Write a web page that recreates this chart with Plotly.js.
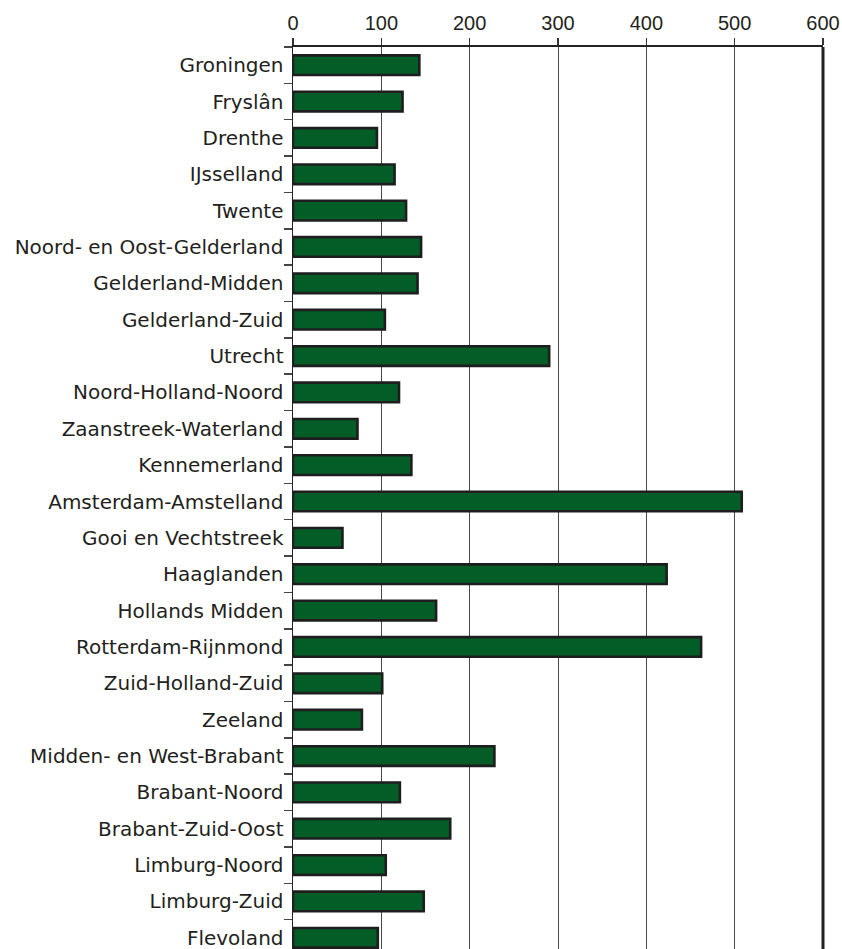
<!DOCTYPE html>
<html>
<head>
<meta charset="utf-8">
<script src="https://cdn.plot.ly/plotly-3.0.1.min.js"></script>
<style>
html, body { margin: 0; padding: 0; overflow: hidden; background: #fff; }
#chart { width: 842px; height: 956px; }
</style>
</head>
<body>
<div id="chart"></div>
<script>
const regions = [
  "Groningen", "Fryslân", "Drenthe", "IJsselland", "Twente",
  "Noord- en Oost-Gelderland", "Gelderland-Midden", "Gelderland-Zuid", "Utrecht",
  "Noord-Holland-Noord", "Zaanstreek-Waterland", "Kennemerland", "Amsterdam-Amstelland",
  "Gooi en Vechtstreek", "Haaglanden", "Hollands Midden", "Rotterdam-Rijnmond",
  "Zuid-Holland-Zuid", "Zeeland", "Midden- en West-Brabant", "Brabant-Noord",
  "Brabant-Zuid-Oost", "Limburg-Noord", "Limburg-Zuid", "Flevoland"
];
const values = [
  143, 124, 95, 115, 128,
  145, 141, 104, 290,
  120, 73, 134, 508,
  56, 423, 162, 462,
  101, 78, 228, 121,
  178, 105, 148, 96
];
const xTicks = [0, 100, 200, 300, 400, 500, 600];

const trace = {
  type: "bar",
  orientation: "h",
  y: regions,
  x: values,
  marker: { color: "#035d27", line: { color: "#1e1e1e", width: 2.6 } },
  hoverinfo: "x+y"
};

const xFont = { family: "Liberation Sans, Arial, sans-serif", size: 20, color: "#231f20" };
const yFont = { family: "DejaVu Sans, sans-serif", size: 20, color: "#231f20" };

const layout = {
  width: 842,
  height: 956,
  margin: { l: 293, r: 19, t: 47, b: 0, pad: 0 },
  paper_bgcolor: "#ffffff",
  plot_bgcolor: "#ffffff",
  showlegend: false,
  bargap: 0.46,
  font: xFont,
  xaxis: {
    side: "top",
    range: [0, 600],
    tickmode: "array",
    tickvals: xTicks,
    ticktext: xTicks.map(String),
    ticks: "outside",
    ticklen: 7,
    tickwidth: 1.5,
    tickcolor: "#333333",
    showline: true,
    linecolor: "#222222",
    linewidth: 2,
    mirror: true,
    showgrid: true,
    gridcolor: "#484848",
    gridwidth: 1,
    zeroline: false,
    fixedrange: true,
    tickfont: xFont
  },
  yaxis: {
    type: "category",
    autorange: "reversed",
    tickson: "boundaries",
    ticks: "outside",
    ticklen: 8,
    tickwidth: 1.5,
    tickcolor: "#444444",
    ticklabelstandoff: 4,
    showline: true,
    linecolor: "#222222",
    linewidth: 1.5,
    mirror: false,
    showgrid: false,
    zeroline: false,
    fixedrange: true,
    tickfont: yFont
  },
  shapes: [{
    type: "line", xref: "paper", yref: "paper",
    x0: 1, x1: 1, y0: 0, y1: 1,
    line: { color: "#222222", width: 3 }
  }]
};

Plotly.newPlot("chart", [trace], layout, { displayModeBar: false, staticPlot: true });
</script>
</body>
</html>
